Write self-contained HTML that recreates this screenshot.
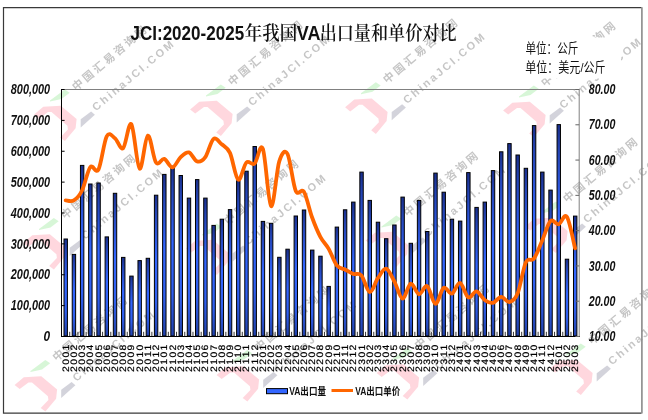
<!DOCTYPE html>
<html><head><meta charset="utf-8"><title>JCI VA</title>
<style>
html,body{margin:0;padding:0;background:#fff;}
svg{display:block;}
.yl{font-family:"Liberation Sans",sans-serif;font-weight:bold;font-style:italic;font-size:15.2px;fill:#111;}
.xl{text-rendering:geometricPrecision;font-family:"Liberation Sans",sans-serif;font-weight:normal;font-size:10.4px;fill:#000;stroke:#000;stroke-width:0.22px;}
.ttl{font-family:"Liberation Sans",sans-serif;font-weight:bold;font-size:21px;fill:#111;}
.cjk{font-family:"Noto Serif CJK SC",serif;font-weight:600;font-size:19.8px;fill:#111;}
.unit{font-family:"Liberation Sans","Noto Sans CJK SC",sans-serif;font-size:13.2px;fill:#111;}
.wm1{font-family:"Noto Sans CJK SC",sans-serif;font-weight:bold;font-size:11px;letter-spacing:2.65px;fill:#909090;fill-opacity:0.52;dominant-baseline:central;}
.wm2{font-family:"Liberation Sans",sans-serif;font-weight:bold;font-size:11px;letter-spacing:2.34px;fill:#909090;fill-opacity:0.52;dominant-baseline:central;}
.leg{font-family:"Liberation Sans","Noto Sans CJK SC",sans-serif;font-weight:bold;font-size:10.5px;fill:#111;}
</style></head>
<body>
<svg width="648" height="420" viewBox="0 0 648 420">
<defs>
<linearGradient id="bg" x1="0" y1="0" x2="0" y2="1">
<stop offset="0" stop-color="#1a2f8c"/>
<stop offset="0.12" stop-color="#2444b4"/>
<stop offset="0.45" stop-color="#3366ff"/>
<stop offset="0.75" stop-color="#3060f0"/>
<stop offset="1" stop-color="#2242aa"/>
</linearGradient>
</defs>
<rect x="0" y="0" width="648" height="420" fill="#fff"/>
<polygon points="34.1,114.5 43.3,106.8 60.8,105.8 76.6,119.1 75.6,128.3 64.9,141.1 60.2,137.5 67.9,129.4 67.4,125.8 51.5,111.9 48.0,111.9 39.2,118.6" fill="#ff7088" fill-opacity="0.28"/>
<polygon points="50.0,100.5 64.8,89.4 69.7,92.8 61.5,98.9 50.0,101.4" fill="#70e070" fill-opacity="0.28"/>
<polygon points="80.7,119.2 91.1,111.5 94.9,114.8 80.7,127.4" fill="#8c8ca0" fill-opacity="0.38"/>
<text transform="translate(72.8,87.4) rotate(-40)" class="wm1">中国汇易咨询网</text>
<text transform="translate(93.5,108.4) rotate(-40)" class="wm2">ChinaJCI.COM</text>
<polygon points="190.1,109.5 199.3,101.8 216.8,100.8 232.6,114.1 231.6,123.3 220.9,136.1 216.2,132.5 223.9,124.4 223.4,120.8 207.5,106.9 204.0,106.9 195.2,113.6" fill="#ff7088" fill-opacity="0.28"/>
<polygon points="206.0,95.5 220.8,84.4 225.7,87.8 217.5,93.9 206.0,96.4" fill="#70e070" fill-opacity="0.28"/>
<polygon points="236.7,114.2 247.1,106.5 250.9,109.8 236.7,122.4" fill="#8c8ca0" fill-opacity="0.38"/>
<text transform="translate(228.8,82.4) rotate(-40)" class="wm1">中国汇易咨询网</text>
<text transform="translate(249.5,103.4) rotate(-40)" class="wm2">ChinaJCI.COM</text>
<polygon points="345.1,107.3 354.3,99.6 371.8,98.6 387.6,111.9 386.6,121.1 375.9,133.9 371.2,130.3 378.9,122.2 378.4,118.6 362.5,104.7 359.0,104.7 350.2,111.4" fill="#ff7088" fill-opacity="0.28"/>
<polygon points="361.0,93.3 375.8,82.2 380.7,85.6 372.5,91.7 361.0,94.2" fill="#70e070" fill-opacity="0.28"/>
<polygon points="391.7,112.0 402.1,104.3 405.9,107.6 391.7,120.2" fill="#8c8ca0" fill-opacity="0.38"/>
<text transform="translate(383.8,80.2) rotate(-40)" class="wm1">中国汇易咨询网</text>
<text transform="translate(404.5,101.2) rotate(-40)" class="wm2">ChinaJCI.COM</text>
<polygon points="503.1,110.5 512.3,102.8 529.8,101.8 545.6,115.1 544.6,124.3 533.9,137.1 529.2,133.5 536.9,125.4 536.4,121.8 520.5,107.9 517.0,107.9 508.2,114.6" fill="#ff7088" fill-opacity="0.28"/>
<polygon points="519.0,96.5 533.8,85.4 538.7,88.8 530.5,94.9 519.0,97.4" fill="#70e070" fill-opacity="0.28"/>
<polygon points="549.7,115.2 560.1,107.5 563.9,110.8 549.7,123.4" fill="#8c8ca0" fill-opacity="0.38"/>
<text transform="translate(541.8,83.4) rotate(-40)" class="wm1">中国汇易咨询网</text>
<text transform="translate(560.7,106.1) rotate(-40)" class="wm2">ChinaJCI.COM</text>
<polygon points="23.1,243.0 32.3,235.3 49.8,234.3 65.6,247.6 64.6,256.8 53.9,269.6 49.2,266.0 56.9,257.9 56.4,254.3 40.5,240.4 37.0,240.4 28.2,247.1" fill="#ff7088" fill-opacity="0.28"/>
<polygon points="39.0,229.0 53.8,217.9 58.7,221.3 50.5,227.4 39.0,229.9" fill="#70e070" fill-opacity="0.28"/>
<polygon points="69.7,247.7 80.1,240.0 83.9,243.3 69.7,255.9" fill="#8c8ca0" fill-opacity="0.38"/>
<text transform="translate(61.8,215.9) rotate(-40)" class="wm1">中国汇易咨询网</text>
<text transform="translate(82.5,236.9) rotate(-40)" class="wm2">ChinaJCI.COM</text>
<polygon points="186.1,248.5 195.3,240.8 212.8,239.8 228.6,253.1 227.6,262.3 216.9,275.1 212.2,271.5 219.9,263.4 219.4,259.8 203.5,245.9 200.0,245.9 191.2,252.6" fill="#ff7088" fill-opacity="0.28"/>
<polygon points="202.0,234.5 216.8,223.4 221.7,226.8 213.5,232.9 202.0,235.4" fill="#70e070" fill-opacity="0.28"/>
<polygon points="232.7,253.2 243.1,245.5 246.9,248.8 232.7,261.4" fill="#8c8ca0" fill-opacity="0.38"/>
<text transform="translate(224.8,221.4) rotate(-40)" class="wm1">中国汇易咨询网</text>
<text transform="translate(245.5,242.4) rotate(-40)" class="wm2">ChinaJCI.COM</text>
<polygon points="365.6,240.5 374.8,232.8 392.3,231.8 408.1,245.1 407.1,254.3 396.4,267.1 391.7,263.5 399.4,255.4 398.9,251.8 383.0,237.9 379.5,237.9 370.7,244.6" fill="#ff7088" fill-opacity="0.28"/>
<polygon points="381.5,226.5 396.3,215.4 401.2,218.8 393.0,224.9 381.5,227.4" fill="#70e070" fill-opacity="0.28"/>
<polygon points="412.2,245.2 422.6,237.5 426.4,240.8 412.2,253.4" fill="#8c8ca0" fill-opacity="0.38"/>
<text transform="translate(404.3,213.4) rotate(-40)" class="wm1">中国汇易咨询网</text>
<text transform="translate(425.0,234.4) rotate(-40)" class="wm2">ChinaJCI.COM</text>
<polygon points="525.1,226.5 534.3,218.8 551.8,217.8 567.6,231.1 566.6,240.3 555.9,253.1 551.2,249.5 558.9,241.4 558.4,237.8 542.5,223.9 539.0,223.9 530.2,230.6" fill="#ff7088" fill-opacity="0.28"/>
<polygon points="541.0,212.5 555.8,201.4 560.7,204.8 552.5,210.9 541.0,213.4" fill="#70e070" fill-opacity="0.28"/>
<polygon points="571.7,231.2 582.1,223.5 585.9,226.8 571.7,239.4" fill="#8c8ca0" fill-opacity="0.38"/>
<text transform="translate(563.8,199.4) rotate(-40)" class="wm1">中国汇易咨询网</text>
<text transform="translate(584.5,220.4) rotate(-40)" class="wm2">ChinaJCI.COM</text>
<polygon points="14.6,385.0 23.8,377.3 41.3,376.3 57.1,389.6 56.1,398.8 45.4,411.6 40.7,408.0 48.4,399.9 47.9,396.3 32.0,382.4 28.5,382.4 19.7,389.1" fill="#ff7088" fill-opacity="0.28"/>
<polygon points="30.5,371.0 45.3,359.9 50.2,363.3 42.0,369.4 30.5,371.9" fill="#70e070" fill-opacity="0.28"/>
<polygon points="61.2,389.7 71.6,382.0 75.4,385.3 61.2,397.9" fill="#8c8ca0" fill-opacity="0.38"/>
<text transform="translate(53.3,357.9) rotate(-40)" class="wm1">中国汇易咨询网</text>
<text transform="translate(74.0,378.9) rotate(-40)" class="wm2">ChinaJCI.COM</text>
<polygon points="216.6,375.0 225.8,367.3 243.3,366.3 259.1,379.6 258.1,388.8 247.4,401.6 242.7,398.0 250.4,389.9 249.9,386.3 234.0,372.4 230.5,372.4 221.7,379.1" fill="#ff7088" fill-opacity="0.28"/>
<polygon points="232.5,361.0 247.3,349.9 252.2,353.3 244.0,359.4 232.5,361.9" fill="#70e070" fill-opacity="0.28"/>
<polygon points="263.2,379.7 273.6,372.0 277.4,375.3 263.2,387.9" fill="#8c8ca0" fill-opacity="0.38"/>
<text transform="translate(255.3,347.9) rotate(-40)" class="wm1">中国汇易咨询网</text>
<text transform="translate(276.0,368.9) rotate(-40)" class="wm2">ChinaJCI.COM</text>
<polygon points="376.6,373.0 385.8,365.3 403.3,364.3 419.1,377.6 418.1,386.8 407.4,399.6 402.7,396.0 410.4,387.9 409.9,384.3 394.0,370.4 390.5,370.4 381.7,377.1" fill="#ff7088" fill-opacity="0.28"/>
<polygon points="392.5,359.0 407.3,347.9 412.2,351.3 404.0,357.4 392.5,359.9" fill="#70e070" fill-opacity="0.28"/>
<polygon points="423.2,377.7 433.6,370.0 437.4,373.3 423.2,385.9" fill="#8c8ca0" fill-opacity="0.38"/>
<text transform="translate(415.3,345.9) rotate(-40)" class="wm1">中国汇易咨询网</text>
<text transform="translate(436.0,366.9) rotate(-40)" class="wm2">ChinaJCI.COM</text>
<polygon points="550.1,368.5 559.3,360.8 576.8,359.8 592.6,373.1 591.6,382.3 580.9,395.1 576.2,391.5 583.9,383.4 583.4,379.8 567.5,365.9 564.0,365.9 555.2,372.6" fill="#ff7088" fill-opacity="0.28"/>
<polygon points="566.0,354.5 580.8,343.4 585.7,346.8 577.5,352.9 566.0,355.4" fill="#70e070" fill-opacity="0.28"/>
<polygon points="596.7,373.2 607.1,365.5 610.9,368.8 596.7,381.4" fill="#8c8ca0" fill-opacity="0.38"/>
<text transform="translate(588.8,341.4) rotate(-40)" class="wm1">中国汇易咨询网</text>
<text transform="translate(609.5,362.4) rotate(-40)" class="wm2">ChinaJCI.COM</text>
<rect x="515" y="37.5" width="106" height="41" fill="#fff"/>
<!-- outer frame -->
<path d="M641.5,7.6 H3.5 V413.1 H641.5" fill="none" stroke="#3a3a3a" stroke-width="1.2"/>
<line x1="641.9" y1="7.2" x2="641.9" y2="413.6" stroke="#8a8a8a" stroke-width="1.6"/>
<!-- title -->
<text x="130.46" y="39.8" class="ttl" textLength="113.67" lengthAdjust="spacingAndGlyphs">JCI:2020-2025</text>
<text x="244.85" y="39.5" class="cjk" textLength="52.4" lengthAdjust="spacingAndGlyphs">年我国</text>
<text x="296.76" y="39.8" class="ttl" textLength="23.71" lengthAdjust="spacingAndGlyphs">VA</text>
<text x="319.63" y="39.5" class="cjk" textLength="136.94" lengthAdjust="spacingAndGlyphs">出口量和单价对比</text>
<text x="525.47" y="53.2" class="unit" textLength="52.89" lengthAdjust="spacingAndGlyphs">单位：公斤</text>
<text x="525.25" y="71.8" class="unit" textLength="80.25" lengthAdjust="spacingAndGlyphs">单位：美元/公斤</text>
<!-- plot border -->
<line x1="61.5" y1="89.5" x2="579.2" y2="89.5" stroke="#808080" stroke-width="1"/>
<rect x="64.01" y="239.00" width="3.4" height="97.00" fill="url(#bg)" stroke="#000" stroke-width="1"/>
<rect x="72.23" y="254.40" width="3.4" height="81.60" fill="url(#bg)" stroke="#000" stroke-width="1"/>
<rect x="80.44" y="165.40" width="3.4" height="170.60" fill="url(#bg)" stroke="#000" stroke-width="1"/>
<rect x="88.66" y="184.00" width="3.4" height="152.00" fill="url(#bg)" stroke="#000" stroke-width="1"/>
<rect x="96.88" y="183.00" width="3.4" height="153.00" fill="url(#bg)" stroke="#000" stroke-width="1"/>
<rect x="105.10" y="236.90" width="3.4" height="99.10" fill="url(#bg)" stroke="#000" stroke-width="1"/>
<rect x="113.31" y="193.30" width="3.4" height="142.70" fill="url(#bg)" stroke="#000" stroke-width="1"/>
<rect x="121.53" y="257.40" width="3.4" height="78.60" fill="url(#bg)" stroke="#000" stroke-width="1"/>
<rect x="129.75" y="276.10" width="3.4" height="59.90" fill="url(#bg)" stroke="#000" stroke-width="1"/>
<rect x="137.97" y="260.60" width="3.4" height="75.40" fill="url(#bg)" stroke="#000" stroke-width="1"/>
<rect x="146.18" y="258.30" width="3.4" height="77.70" fill="url(#bg)" stroke="#000" stroke-width="1"/>
<rect x="154.40" y="195.20" width="3.4" height="140.80" fill="url(#bg)" stroke="#000" stroke-width="1"/>
<rect x="162.62" y="174.40" width="3.4" height="161.60" fill="url(#bg)" stroke="#000" stroke-width="1"/>
<rect x="170.84" y="166.20" width="3.4" height="169.80" fill="url(#bg)" stroke="#000" stroke-width="1"/>
<rect x="179.05" y="175.50" width="3.4" height="160.50" fill="url(#bg)" stroke="#000" stroke-width="1"/>
<rect x="187.27" y="198.10" width="3.4" height="137.90" fill="url(#bg)" stroke="#000" stroke-width="1"/>
<rect x="195.49" y="179.60" width="3.4" height="156.40" fill="url(#bg)" stroke="#000" stroke-width="1"/>
<rect x="203.71" y="198.10" width="3.4" height="137.90" fill="url(#bg)" stroke="#000" stroke-width="1"/>
<rect x="211.92" y="225.40" width="3.4" height="110.60" fill="url(#bg)" stroke="#000" stroke-width="1"/>
<rect x="220.14" y="219.20" width="3.4" height="116.80" fill="url(#bg)" stroke="#000" stroke-width="1"/>
<rect x="228.36" y="209.60" width="3.4" height="126.40" fill="url(#bg)" stroke="#000" stroke-width="1"/>
<rect x="236.58" y="180.70" width="3.4" height="155.30" fill="url(#bg)" stroke="#000" stroke-width="1"/>
<rect x="244.79" y="171.20" width="3.4" height="164.80" fill="url(#bg)" stroke="#000" stroke-width="1"/>
<rect x="253.01" y="146.50" width="3.4" height="189.50" fill="url(#bg)" stroke="#000" stroke-width="1"/>
<rect x="261.23" y="221.40" width="3.4" height="114.60" fill="url(#bg)" stroke="#000" stroke-width="1"/>
<rect x="269.45" y="223.30" width="3.4" height="112.70" fill="url(#bg)" stroke="#000" stroke-width="1"/>
<rect x="277.66" y="257.30" width="3.4" height="78.70" fill="url(#bg)" stroke="#000" stroke-width="1"/>
<rect x="285.88" y="249.20" width="3.4" height="86.80" fill="url(#bg)" stroke="#000" stroke-width="1"/>
<rect x="294.10" y="216.00" width="3.4" height="120.00" fill="url(#bg)" stroke="#000" stroke-width="1"/>
<rect x="302.32" y="210.00" width="3.4" height="126.00" fill="url(#bg)" stroke="#000" stroke-width="1"/>
<rect x="310.53" y="250.10" width="3.4" height="85.90" fill="url(#bg)" stroke="#000" stroke-width="1"/>
<rect x="318.75" y="256.20" width="3.4" height="79.80" fill="url(#bg)" stroke="#000" stroke-width="1"/>
<rect x="326.97" y="286.40" width="3.4" height="49.60" fill="url(#bg)" stroke="#000" stroke-width="1"/>
<rect x="335.18" y="227.10" width="3.4" height="108.90" fill="url(#bg)" stroke="#000" stroke-width="1"/>
<rect x="343.40" y="209.80" width="3.4" height="126.20" fill="url(#bg)" stroke="#000" stroke-width="1"/>
<rect x="351.62" y="202.10" width="3.4" height="133.90" fill="url(#bg)" stroke="#000" stroke-width="1"/>
<rect x="359.84" y="172.10" width="3.4" height="163.90" fill="url(#bg)" stroke="#000" stroke-width="1"/>
<rect x="368.05" y="200.40" width="3.4" height="135.60" fill="url(#bg)" stroke="#000" stroke-width="1"/>
<rect x="376.27" y="222.20" width="3.4" height="113.80" fill="url(#bg)" stroke="#000" stroke-width="1"/>
<rect x="384.49" y="238.70" width="3.4" height="97.30" fill="url(#bg)" stroke="#000" stroke-width="1"/>
<rect x="392.71" y="225.00" width="3.4" height="111.00" fill="url(#bg)" stroke="#000" stroke-width="1"/>
<rect x="400.92" y="197.10" width="3.4" height="138.90" fill="url(#bg)" stroke="#000" stroke-width="1"/>
<rect x="409.14" y="243.30" width="3.4" height="92.70" fill="url(#bg)" stroke="#000" stroke-width="1"/>
<rect x="417.36" y="200.40" width="3.4" height="135.60" fill="url(#bg)" stroke="#000" stroke-width="1"/>
<rect x="425.58" y="231.50" width="3.4" height="104.50" fill="url(#bg)" stroke="#000" stroke-width="1"/>
<rect x="433.79" y="173.10" width="3.4" height="162.90" fill="url(#bg)" stroke="#000" stroke-width="1"/>
<rect x="442.01" y="192.20" width="3.4" height="143.80" fill="url(#bg)" stroke="#000" stroke-width="1"/>
<rect x="450.23" y="219.20" width="3.4" height="116.80" fill="url(#bg)" stroke="#000" stroke-width="1"/>
<rect x="458.45" y="221.10" width="3.4" height="114.90" fill="url(#bg)" stroke="#000" stroke-width="1"/>
<rect x="466.66" y="172.60" width="3.4" height="163.40" fill="url(#bg)" stroke="#000" stroke-width="1"/>
<rect x="474.88" y="207.40" width="3.4" height="128.60" fill="url(#bg)" stroke="#000" stroke-width="1"/>
<rect x="483.10" y="202.10" width="3.4" height="133.90" fill="url(#bg)" stroke="#000" stroke-width="1"/>
<rect x="491.32" y="170.60" width="3.4" height="165.40" fill="url(#bg)" stroke="#000" stroke-width="1"/>
<rect x="499.53" y="151.80" width="3.4" height="184.20" fill="url(#bg)" stroke="#000" stroke-width="1"/>
<rect x="507.75" y="143.60" width="3.4" height="192.40" fill="url(#bg)" stroke="#000" stroke-width="1"/>
<rect x="515.97" y="155.00" width="3.4" height="181.00" fill="url(#bg)" stroke="#000" stroke-width="1"/>
<rect x="524.19" y="168.30" width="3.4" height="167.70" fill="url(#bg)" stroke="#000" stroke-width="1"/>
<rect x="532.40" y="125.60" width="3.4" height="210.40" fill="url(#bg)" stroke="#000" stroke-width="1"/>
<rect x="540.62" y="172.10" width="3.4" height="163.90" fill="url(#bg)" stroke="#000" stroke-width="1"/>
<rect x="548.84" y="190.10" width="3.4" height="145.90" fill="url(#bg)" stroke="#000" stroke-width="1"/>
<rect x="557.06" y="124.60" width="3.4" height="211.40" fill="url(#bg)" stroke="#000" stroke-width="1"/>
<rect x="565.27" y="259.20" width="3.4" height="76.80" fill="url(#bg)" stroke="#000" stroke-width="1"/>
<rect x="573.49" y="216.10" width="3.4" height="119.90" fill="url(#bg)" stroke="#000" stroke-width="1"/>
<line x1="69.72" y1="331.8" x2="69.72" y2="336" stroke="#222" stroke-width="0.9"/>
<line x1="77.93" y1="331.8" x2="77.93" y2="336" stroke="#222" stroke-width="0.9"/>
<line x1="86.15" y1="331.8" x2="86.15" y2="336" stroke="#222" stroke-width="0.9"/>
<line x1="94.37" y1="331.8" x2="94.37" y2="336" stroke="#222" stroke-width="0.9"/>
<line x1="102.59" y1="331.8" x2="102.59" y2="336" stroke="#222" stroke-width="0.9"/>
<line x1="110.80" y1="331.8" x2="110.80" y2="336" stroke="#222" stroke-width="0.9"/>
<line x1="119.02" y1="331.8" x2="119.02" y2="336" stroke="#222" stroke-width="0.9"/>
<line x1="127.24" y1="331.8" x2="127.24" y2="336" stroke="#222" stroke-width="0.9"/>
<line x1="135.46" y1="331.8" x2="135.46" y2="336" stroke="#222" stroke-width="0.9"/>
<line x1="143.67" y1="331.8" x2="143.67" y2="336" stroke="#222" stroke-width="0.9"/>
<line x1="151.89" y1="331.8" x2="151.89" y2="336" stroke="#222" stroke-width="0.9"/>
<line x1="160.11" y1="331.8" x2="160.11" y2="336" stroke="#222" stroke-width="0.9"/>
<line x1="168.33" y1="331.8" x2="168.33" y2="336" stroke="#222" stroke-width="0.9"/>
<line x1="176.54" y1="331.8" x2="176.54" y2="336" stroke="#222" stroke-width="0.9"/>
<line x1="184.76" y1="331.8" x2="184.76" y2="336" stroke="#222" stroke-width="0.9"/>
<line x1="192.98" y1="331.8" x2="192.98" y2="336" stroke="#222" stroke-width="0.9"/>
<line x1="201.20" y1="331.8" x2="201.20" y2="336" stroke="#222" stroke-width="0.9"/>
<line x1="209.41" y1="331.8" x2="209.41" y2="336" stroke="#222" stroke-width="0.9"/>
<line x1="217.63" y1="331.8" x2="217.63" y2="336" stroke="#222" stroke-width="0.9"/>
<line x1="225.85" y1="331.8" x2="225.85" y2="336" stroke="#222" stroke-width="0.9"/>
<line x1="234.07" y1="331.8" x2="234.07" y2="336" stroke="#222" stroke-width="0.9"/>
<line x1="242.28" y1="331.8" x2="242.28" y2="336" stroke="#222" stroke-width="0.9"/>
<line x1="250.50" y1="331.8" x2="250.50" y2="336" stroke="#222" stroke-width="0.9"/>
<line x1="258.72" y1="331.8" x2="258.72" y2="336" stroke="#222" stroke-width="0.9"/>
<line x1="266.94" y1="331.8" x2="266.94" y2="336" stroke="#222" stroke-width="0.9"/>
<line x1="275.15" y1="331.8" x2="275.15" y2="336" stroke="#222" stroke-width="0.9"/>
<line x1="283.37" y1="331.8" x2="283.37" y2="336" stroke="#222" stroke-width="0.9"/>
<line x1="291.59" y1="331.8" x2="291.59" y2="336" stroke="#222" stroke-width="0.9"/>
<line x1="299.81" y1="331.8" x2="299.81" y2="336" stroke="#222" stroke-width="0.9"/>
<line x1="308.02" y1="331.8" x2="308.02" y2="336" stroke="#222" stroke-width="0.9"/>
<line x1="316.24" y1="331.8" x2="316.24" y2="336" stroke="#222" stroke-width="0.9"/>
<line x1="324.46" y1="331.8" x2="324.46" y2="336" stroke="#222" stroke-width="0.9"/>
<line x1="332.68" y1="331.8" x2="332.68" y2="336" stroke="#222" stroke-width="0.9"/>
<line x1="340.89" y1="331.8" x2="340.89" y2="336" stroke="#222" stroke-width="0.9"/>
<line x1="349.11" y1="331.8" x2="349.11" y2="336" stroke="#222" stroke-width="0.9"/>
<line x1="357.33" y1="331.8" x2="357.33" y2="336" stroke="#222" stroke-width="0.9"/>
<line x1="365.55" y1="331.8" x2="365.55" y2="336" stroke="#222" stroke-width="0.9"/>
<line x1="373.76" y1="331.8" x2="373.76" y2="336" stroke="#222" stroke-width="0.9"/>
<line x1="381.98" y1="331.8" x2="381.98" y2="336" stroke="#222" stroke-width="0.9"/>
<line x1="390.20" y1="331.8" x2="390.20" y2="336" stroke="#222" stroke-width="0.9"/>
<line x1="398.42" y1="331.8" x2="398.42" y2="336" stroke="#222" stroke-width="0.9"/>
<line x1="406.63" y1="331.8" x2="406.63" y2="336" stroke="#222" stroke-width="0.9"/>
<line x1="414.85" y1="331.8" x2="414.85" y2="336" stroke="#222" stroke-width="0.9"/>
<line x1="423.07" y1="331.8" x2="423.07" y2="336" stroke="#222" stroke-width="0.9"/>
<line x1="431.29" y1="331.8" x2="431.29" y2="336" stroke="#222" stroke-width="0.9"/>
<line x1="439.50" y1="331.8" x2="439.50" y2="336" stroke="#222" stroke-width="0.9"/>
<line x1="447.72" y1="331.8" x2="447.72" y2="336" stroke="#222" stroke-width="0.9"/>
<line x1="455.94" y1="331.8" x2="455.94" y2="336" stroke="#222" stroke-width="0.9"/>
<line x1="464.16" y1="331.8" x2="464.16" y2="336" stroke="#222" stroke-width="0.9"/>
<line x1="472.37" y1="331.8" x2="472.37" y2="336" stroke="#222" stroke-width="0.9"/>
<line x1="480.59" y1="331.8" x2="480.59" y2="336" stroke="#222" stroke-width="0.9"/>
<line x1="488.81" y1="331.8" x2="488.81" y2="336" stroke="#222" stroke-width="0.9"/>
<line x1="497.03" y1="331.8" x2="497.03" y2="336" stroke="#222" stroke-width="0.9"/>
<line x1="505.24" y1="331.8" x2="505.24" y2="336" stroke="#222" stroke-width="0.9"/>
<line x1="513.46" y1="331.8" x2="513.46" y2="336" stroke="#222" stroke-width="0.9"/>
<line x1="521.68" y1="331.8" x2="521.68" y2="336" stroke="#222" stroke-width="0.9"/>
<line x1="529.90" y1="331.8" x2="529.90" y2="336" stroke="#222" stroke-width="0.9"/>
<line x1="538.11" y1="331.8" x2="538.11" y2="336" stroke="#222" stroke-width="0.9"/>
<line x1="546.33" y1="331.8" x2="546.33" y2="336" stroke="#222" stroke-width="0.9"/>
<line x1="554.55" y1="331.8" x2="554.55" y2="336" stroke="#222" stroke-width="0.9"/>
<line x1="562.77" y1="331.8" x2="562.77" y2="336" stroke="#222" stroke-width="0.9"/>
<line x1="570.98" y1="331.8" x2="570.98" y2="336" stroke="#222" stroke-width="0.9"/>
<line x1="579.2" y1="89" x2="579.2" y2="337" stroke="#808080" stroke-width="1"/>
<line x1="61.5" y1="89" x2="61.5" y2="337" stroke="#000" stroke-width="1"/>
<line x1="61" y1="336.5" x2="579.6" y2="336.5" stroke="#000" stroke-width="1"/>
<line x1="61.5" y1="336.50" x2="64.6" y2="336.50" stroke="#000" stroke-width="1"/>
<line x1="61.5" y1="305.62" x2="64.6" y2="305.62" stroke="#000" stroke-width="1"/>
<line x1="61.5" y1="274.75" x2="64.6" y2="274.75" stroke="#000" stroke-width="1"/>
<line x1="61.5" y1="243.88" x2="64.6" y2="243.88" stroke="#000" stroke-width="1"/>
<line x1="61.5" y1="213.00" x2="64.6" y2="213.00" stroke="#000" stroke-width="1"/>
<line x1="61.5" y1="182.12" x2="64.6" y2="182.12" stroke="#000" stroke-width="1"/>
<line x1="61.5" y1="151.25" x2="64.6" y2="151.25" stroke="#000" stroke-width="1"/>
<line x1="61.5" y1="120.38" x2="64.6" y2="120.38" stroke="#000" stroke-width="1"/>
<line x1="61.5" y1="89.50" x2="64.6" y2="89.50" stroke="#000" stroke-width="1"/>
<line x1="575.4" y1="336.50" x2="579.2" y2="336.50" stroke="#666" stroke-width="1"/>
<line x1="575.4" y1="301.21" x2="579.2" y2="301.21" stroke="#666" stroke-width="1"/>
<line x1="575.4" y1="265.93" x2="579.2" y2="265.93" stroke="#666" stroke-width="1"/>
<line x1="575.4" y1="230.64" x2="579.2" y2="230.64" stroke="#666" stroke-width="1"/>
<line x1="575.4" y1="195.36" x2="579.2" y2="195.36" stroke="#666" stroke-width="1"/>
<line x1="575.4" y1="160.07" x2="579.2" y2="160.07" stroke="#666" stroke-width="1"/>
<line x1="575.4" y1="124.79" x2="579.2" y2="124.79" stroke="#666" stroke-width="1"/>
<line x1="575.4" y1="89.50" x2="579.2" y2="89.50" stroke="#666" stroke-width="1"/>
<path d="M65.61,200.30 C66.98,200.32 71.09,202.03 73.83,200.40 C76.57,198.77 79.30,196.03 82.04,190.50 C84.78,184.97 87.52,170.70 90.26,167.20 C93.00,163.70 95.74,174.63 98.48,169.50 C101.22,164.37 103.96,141.62 106.70,136.40 C109.44,131.18 112.17,136.23 114.91,138.20 C117.65,140.17 120.39,150.52 123.13,148.20 C125.87,145.88 128.61,120.90 131.35,124.30 C134.09,127.70 136.83,166.72 139.57,168.60 C142.31,170.48 145.04,136.62 147.78,135.60 C150.52,134.58 153.26,158.62 156.00,162.50 C158.74,166.38 161.48,158.08 164.22,158.90 C166.96,159.72 169.70,167.70 172.44,167.40 C175.17,167.10 177.91,159.60 180.65,157.10 C183.39,154.60 186.13,151.68 188.87,152.40 C191.61,153.12 194.35,160.62 197.09,161.40 C199.83,162.18 202.57,160.85 205.31,157.10 C208.04,153.35 210.78,141.03 213.52,138.90 C216.26,136.77 219.00,141.97 221.74,144.30 C224.48,146.63 227.22,147.02 229.96,152.90 C232.70,158.78 235.44,178.00 238.18,179.60 C240.91,181.20 243.65,165.17 246.39,162.50 C249.13,159.83 251.87,165.92 254.61,163.60 C257.35,161.28 260.09,141.52 262.83,148.60 C265.57,155.68 268.31,203.97 271.05,206.10 C273.78,208.23 276.52,170.10 279.26,161.40 C282.00,152.70 284.74,149.02 287.48,153.90 C290.22,158.78 292.96,184.38 295.70,190.70 C298.44,197.02 301.18,187.33 303.92,191.80 C306.65,196.27 309.39,210.00 312.13,217.50 C314.87,225.00 317.61,231.62 320.35,236.80 C323.09,241.98 325.83,243.83 328.57,248.60 C331.31,253.37 334.05,261.92 336.78,265.40 C339.52,268.88 342.26,268.08 345.00,269.50 C347.74,270.92 350.48,272.92 353.22,273.90 C355.96,274.88 358.70,272.37 361.44,275.40 C364.18,278.43 366.92,291.63 369.65,292.10 C372.39,292.57 375.13,282.12 377.87,278.20 C380.61,274.28 383.35,268.07 386.09,268.60 C388.83,269.13 391.57,276.40 394.31,281.40 C397.05,286.40 399.79,298.23 402.52,298.60 C405.26,298.97 408.00,284.32 410.74,283.60 C413.48,282.88 416.22,293.88 418.96,294.30 C421.70,294.72 424.44,284.50 427.18,286.10 C429.92,287.70 432.66,303.62 435.39,303.90 C438.13,304.18 440.87,289.52 443.61,287.80 C446.35,286.08 449.09,294.42 451.83,293.60 C454.57,292.78 457.31,282.27 460.05,282.90 C462.79,283.53 465.53,295.98 468.26,297.40 C471.00,298.82 473.74,290.97 476.48,291.40 C479.22,291.83 481.96,298.10 484.70,300.00 C487.44,301.90 490.18,303.33 492.92,302.80 C495.66,302.27 498.39,296.92 501.13,296.80 C503.87,296.68 506.61,302.63 509.35,302.10 C512.09,301.57 514.83,300.20 517.57,293.60 C520.31,287.00 523.05,268.35 525.79,262.50 C528.53,256.65 531.26,262.18 534.00,258.50 C536.74,254.82 539.48,246.63 542.22,240.40 C544.96,234.17 547.70,223.78 550.44,221.10 C553.18,218.42 555.92,225.02 558.66,224.30 C561.40,223.58 564.13,212.80 566.87,216.80 C569.61,220.80 573.72,243.05 575.09,248.30" fill="none" stroke="#ff6600" stroke-width="3.8" stroke-linejoin="round" stroke-linecap="round"/>
<text x="50.1" y="341.20" class="yl" text-anchor="end" textLength="6.6" lengthAdjust="spacingAndGlyphs">0</text>
<text x="50.1" y="310.32" class="yl" text-anchor="end" textLength="39.3" lengthAdjust="spacingAndGlyphs">100,000</text>
<text x="50.1" y="279.45" class="yl" text-anchor="end" textLength="39.3" lengthAdjust="spacingAndGlyphs">200,000</text>
<text x="50.1" y="248.57" class="yl" text-anchor="end" textLength="39.3" lengthAdjust="spacingAndGlyphs">300,000</text>
<text x="50.1" y="217.70" class="yl" text-anchor="end" textLength="39.3" lengthAdjust="spacingAndGlyphs">400,000</text>
<text x="50.1" y="186.82" class="yl" text-anchor="end" textLength="39.3" lengthAdjust="spacingAndGlyphs">500,000</text>
<text x="50.1" y="155.95" class="yl" text-anchor="end" textLength="39.3" lengthAdjust="spacingAndGlyphs">600,000</text>
<text x="50.1" y="125.08" class="yl" text-anchor="end" textLength="39.3" lengthAdjust="spacingAndGlyphs">700,000</text>
<text x="50.1" y="94.20" class="yl" text-anchor="end" textLength="39.3" lengthAdjust="spacingAndGlyphs">800,000</text>
<text x="588.8" y="341.20" class="yl" textLength="26.6" lengthAdjust="spacingAndGlyphs">10.00</text>
<text x="588.8" y="305.91" class="yl" textLength="26.6" lengthAdjust="spacingAndGlyphs">20.00</text>
<text x="588.8" y="270.63" class="yl" textLength="26.6" lengthAdjust="spacingAndGlyphs">30.00</text>
<text x="588.8" y="235.34" class="yl" textLength="26.6" lengthAdjust="spacingAndGlyphs">40.00</text>
<text x="588.8" y="200.06" class="yl" textLength="26.6" lengthAdjust="spacingAndGlyphs">50.00</text>
<text x="588.8" y="164.77" class="yl" textLength="26.6" lengthAdjust="spacingAndGlyphs">60.00</text>
<text x="588.8" y="129.49" class="yl" textLength="26.6" lengthAdjust="spacingAndGlyphs">70.00</text>
<text x="588.8" y="94.20" class="yl" textLength="26.6" lengthAdjust="spacingAndGlyphs">80.00</text>
<text transform="translate(68.71,371.9) scale(0.9,1) rotate(-90)" class="xl" textLength="27.3" lengthAdjust="spacing">2001</text>
<text transform="translate(76.93,371.9) scale(0.9,1) rotate(-90)" class="xl" textLength="27.3" lengthAdjust="spacing">2002</text>
<text transform="translate(85.14,371.9) scale(0.9,1) rotate(-90)" class="xl" textLength="27.3" lengthAdjust="spacing">2003</text>
<text transform="translate(93.36,371.9) scale(0.9,1) rotate(-90)" class="xl" textLength="27.3" lengthAdjust="spacing">2004</text>
<text transform="translate(101.58,371.9) scale(0.9,1) rotate(-90)" class="xl" textLength="27.3" lengthAdjust="spacing">2005</text>
<text transform="translate(109.80,371.9) scale(0.9,1) rotate(-90)" class="xl" textLength="27.3" lengthAdjust="spacing">2006</text>
<text transform="translate(118.01,371.9) scale(0.9,1) rotate(-90)" class="xl" textLength="27.3" lengthAdjust="spacing">2007</text>
<text transform="translate(126.23,371.9) scale(0.9,1) rotate(-90)" class="xl" textLength="27.3" lengthAdjust="spacing">2008</text>
<text transform="translate(134.45,371.9) scale(0.9,1) rotate(-90)" class="xl" textLength="27.3" lengthAdjust="spacing">2009</text>
<text transform="translate(142.67,371.9) scale(0.9,1) rotate(-90)" class="xl" textLength="27.3" lengthAdjust="spacing">2010</text>
<text transform="translate(150.88,371.9) scale(0.9,1) rotate(-90)" class="xl" textLength="27.3" lengthAdjust="spacing">2011</text>
<text transform="translate(159.10,371.9) scale(0.9,1) rotate(-90)" class="xl" textLength="27.3" lengthAdjust="spacing">2012</text>
<text transform="translate(167.32,371.9) scale(0.9,1) rotate(-90)" class="xl" textLength="27.3" lengthAdjust="spacing">2101</text>
<text transform="translate(175.54,371.9) scale(0.9,1) rotate(-90)" class="xl" textLength="27.3" lengthAdjust="spacing">2102</text>
<text transform="translate(183.75,371.9) scale(0.9,1) rotate(-90)" class="xl" textLength="27.3" lengthAdjust="spacing">2103</text>
<text transform="translate(191.97,371.9) scale(0.9,1) rotate(-90)" class="xl" textLength="27.3" lengthAdjust="spacing">2104</text>
<text transform="translate(200.19,371.9) scale(0.9,1) rotate(-90)" class="xl" textLength="27.3" lengthAdjust="spacing">2105</text>
<text transform="translate(208.41,371.9) scale(0.9,1) rotate(-90)" class="xl" textLength="27.3" lengthAdjust="spacing">2106</text>
<text transform="translate(216.62,371.9) scale(0.9,1) rotate(-90)" class="xl" textLength="27.3" lengthAdjust="spacing">2107</text>
<text transform="translate(224.84,371.9) scale(0.9,1) rotate(-90)" class="xl" textLength="27.3" lengthAdjust="spacing">2108</text>
<text transform="translate(233.06,371.9) scale(0.9,1) rotate(-90)" class="xl" textLength="27.3" lengthAdjust="spacing">2109</text>
<text transform="translate(241.28,371.9) scale(0.9,1) rotate(-90)" class="xl" textLength="27.3" lengthAdjust="spacing">2110</text>
<text transform="translate(249.49,371.9) scale(0.9,1) rotate(-90)" class="xl" textLength="27.3" lengthAdjust="spacing">2111</text>
<text transform="translate(257.71,371.9) scale(0.9,1) rotate(-90)" class="xl" textLength="27.3" lengthAdjust="spacing">2112</text>
<text transform="translate(265.93,371.9) scale(0.9,1) rotate(-90)" class="xl" textLength="27.3" lengthAdjust="spacing">2201</text>
<text transform="translate(274.15,371.9) scale(0.9,1) rotate(-90)" class="xl" textLength="27.3" lengthAdjust="spacing">2202</text>
<text transform="translate(282.36,371.9) scale(0.9,1) rotate(-90)" class="xl" textLength="27.3" lengthAdjust="spacing">2203</text>
<text transform="translate(290.58,371.9) scale(0.9,1) rotate(-90)" class="xl" textLength="27.3" lengthAdjust="spacing">2204</text>
<text transform="translate(298.80,371.9) scale(0.9,1) rotate(-90)" class="xl" textLength="27.3" lengthAdjust="spacing">2205</text>
<text transform="translate(307.02,371.9) scale(0.9,1) rotate(-90)" class="xl" textLength="27.3" lengthAdjust="spacing">2206</text>
<text transform="translate(315.23,371.9) scale(0.9,1) rotate(-90)" class="xl" textLength="27.3" lengthAdjust="spacing">2207</text>
<text transform="translate(323.45,371.9) scale(0.9,1) rotate(-90)" class="xl" textLength="27.3" lengthAdjust="spacing">2208</text>
<text transform="translate(331.67,371.9) scale(0.9,1) rotate(-90)" class="xl" textLength="27.3" lengthAdjust="spacing">2209</text>
<text transform="translate(339.88,371.9) scale(0.9,1) rotate(-90)" class="xl" textLength="27.3" lengthAdjust="spacing">2210</text>
<text transform="translate(348.10,371.9) scale(0.9,1) rotate(-90)" class="xl" textLength="27.3" lengthAdjust="spacing">2211</text>
<text transform="translate(356.32,371.9) scale(0.9,1) rotate(-90)" class="xl" textLength="27.3" lengthAdjust="spacing">2212</text>
<text transform="translate(364.54,371.9) scale(0.9,1) rotate(-90)" class="xl" textLength="27.3" lengthAdjust="spacing">2301</text>
<text transform="translate(372.75,371.9) scale(0.9,1) rotate(-90)" class="xl" textLength="27.3" lengthAdjust="spacing">2302</text>
<text transform="translate(380.97,371.9) scale(0.9,1) rotate(-90)" class="xl" textLength="27.3" lengthAdjust="spacing">2303</text>
<text transform="translate(389.19,371.9) scale(0.9,1) rotate(-90)" class="xl" textLength="27.3" lengthAdjust="spacing">2304</text>
<text transform="translate(397.41,371.9) scale(0.9,1) rotate(-90)" class="xl" textLength="27.3" lengthAdjust="spacing">2305</text>
<text transform="translate(405.62,371.9) scale(0.9,1) rotate(-90)" class="xl" textLength="27.3" lengthAdjust="spacing">2306</text>
<text transform="translate(413.84,371.9) scale(0.9,1) rotate(-90)" class="xl" textLength="27.3" lengthAdjust="spacing">2307</text>
<text transform="translate(422.06,371.9) scale(0.9,1) rotate(-90)" class="xl" textLength="27.3" lengthAdjust="spacing">2308</text>
<text transform="translate(430.28,371.9) scale(0.9,1) rotate(-90)" class="xl" textLength="27.3" lengthAdjust="spacing">2309</text>
<text transform="translate(438.49,371.9) scale(0.9,1) rotate(-90)" class="xl" textLength="27.3" lengthAdjust="spacing">2310</text>
<text transform="translate(446.71,371.9) scale(0.9,1) rotate(-90)" class="xl" textLength="27.3" lengthAdjust="spacing">2311</text>
<text transform="translate(454.93,371.9) scale(0.9,1) rotate(-90)" class="xl" textLength="27.3" lengthAdjust="spacing">2312</text>
<text transform="translate(463.15,371.9) scale(0.9,1) rotate(-90)" class="xl" textLength="27.3" lengthAdjust="spacing">2401</text>
<text transform="translate(471.36,371.9) scale(0.9,1) rotate(-90)" class="xl" textLength="27.3" lengthAdjust="spacing">2402</text>
<text transform="translate(479.58,371.9) scale(0.9,1) rotate(-90)" class="xl" textLength="27.3" lengthAdjust="spacing">2403</text>
<text transform="translate(487.80,371.9) scale(0.9,1) rotate(-90)" class="xl" textLength="27.3" lengthAdjust="spacing">2404</text>
<text transform="translate(496.02,371.9) scale(0.9,1) rotate(-90)" class="xl" textLength="27.3" lengthAdjust="spacing">2405</text>
<text transform="translate(504.23,371.9) scale(0.9,1) rotate(-90)" class="xl" textLength="27.3" lengthAdjust="spacing">2406</text>
<text transform="translate(512.45,371.9) scale(0.9,1) rotate(-90)" class="xl" textLength="27.3" lengthAdjust="spacing">2407</text>
<text transform="translate(520.67,371.9) scale(0.9,1) rotate(-90)" class="xl" textLength="27.3" lengthAdjust="spacing">2408</text>
<text transform="translate(528.89,371.9) scale(0.9,1) rotate(-90)" class="xl" textLength="27.3" lengthAdjust="spacing">2409</text>
<text transform="translate(537.10,371.9) scale(0.9,1) rotate(-90)" class="xl" textLength="27.3" lengthAdjust="spacing">2410</text>
<text transform="translate(545.32,371.9) scale(0.9,1) rotate(-90)" class="xl" textLength="27.3" lengthAdjust="spacing">2411</text>
<text transform="translate(553.54,371.9) scale(0.9,1) rotate(-90)" class="xl" textLength="27.3" lengthAdjust="spacing">2412</text>
<text transform="translate(561.76,371.9) scale(0.9,1) rotate(-90)" class="xl" textLength="27.3" lengthAdjust="spacing">2501</text>
<text transform="translate(569.97,371.9) scale(0.9,1) rotate(-90)" class="xl" textLength="27.3" lengthAdjust="spacing">2502</text>
<text transform="translate(578.19,371.9) scale(0.9,1) rotate(-90)" class="xl" textLength="27.3" lengthAdjust="spacing">2503</text>
<!-- legend -->
<rect x="266.5" y="388.6" width="21" height="5.1" fill="#3366ff" stroke="#000" stroke-width="1"/>
<text x="289.13" y="394.6" class="leg" textLength="36.84" lengthAdjust="spacingAndGlyphs">VA出口量</text>
<line x1="331.5" y1="390.5" x2="353" y2="390.5" stroke="#ff6600" stroke-width="3"/>
<text x="355.15" y="394.6" class="leg" textLength="45.0" lengthAdjust="spacingAndGlyphs">VA出口单价</text>
</svg>
</body></html>
